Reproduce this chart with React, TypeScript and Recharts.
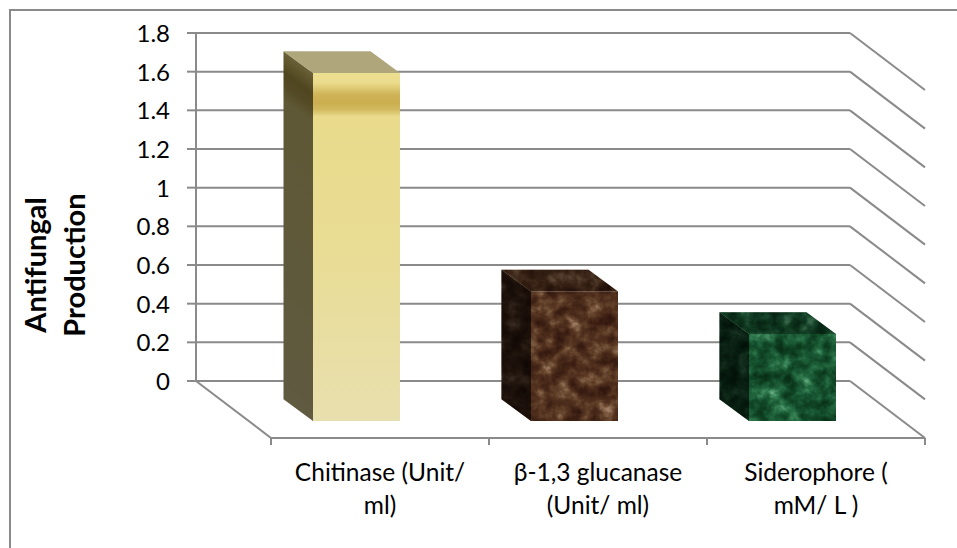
import React from "react";
import { BarChart, Bar, XAxis, YAxis, CartesianGrid } from "recharts";

const categories = ["Chitinase (Unit/ ml)", "β-1,3 glucanase (Unit/ ml)", "Siderophore ( mM/ L )"];
const categoryLines = [
  ["Chitinase (Unit/", "ml)"],
  ["β-1,3 glucanase", "(Unit/ ml)"],
  ["Siderophore (", "mM/ L )"],
];
const production = [1.8, 0.67, 0.45];
const valueTicks = [0, 0.2, 0.4, 0.6, 0.8, 1, 1.2, 1.4, 1.6, 1.8];
const titleLines = ["Antifungal", "Production"];

const rows = categories.map((name, i) => ({ name, production: production[i], index: i }));

// Plot box: the back wall of the oblique 3D view.
const WALL_LEFT = 196;
const WALL_TOP = 33;
const WALL_WIDTH = 654;
const WALL_HEIGHT = 348;
const WIDTH = 957;
const HEIGHT = 548;

// Oblique offsets: how far the floor and the bar faces are pulled toward the viewer.
const FLOOR_DX = 75;
const FLOOR_DY = 57;
const BACK_DX = 21.5;
const BACK_DY = 18.3;
const FRONT_DX = 51;
const FRONT_DY = 40;

const LINE = "#8a8a8a";
const LINE_W = 2;
const FONT = "Lato, 'Noto Sans', sans-serif";

type BoxProps = { x?: number; y?: number; width?: number; height?: number; index?: number };

const pts = (list: number[][]) => list.map((p) => p.join(",")).join(" ");

function Block(props: BoxProps) {
  const { x = 0, y = 0, width = 0, height = 0, index = 0 } = props;
  const fl = x + FRONT_DX;
  const fr = fl + width;
  const ft = y + FRONT_DY;
  const fb = ft + height;
  const bl = x + BACK_DX;
  const br = bl + width;
  const bt = y + BACK_DY;
  const bb = bt + height;
  const front = pts([[fl, ft], [fr, ft], [fr, fb], [fl, fb]]);
  const side = pts([[bl, bt], [fl, ft], [fl, fb], [bl, bb]]);
  const top = pts([[bl, bt], [br, bt], [fr, ft], [fl, ft]]);

  if (index === 0) {
    // Side gradient runs across the receding direction so its dark band slants with the face.
    const dx = FRONT_DX - BACK_DX;
    const dy = FRONT_DY - BACK_DY;
    const len = Math.hypot(dx, dy);
    const k = (height * dx) / len / len;
    return (
      <g>
        <defs>
          <linearGradient
            id="gold-side"
            gradientUnits="userSpaceOnUse"
            x1={bl}
            y1={bt}
            x2={bl - dy * k}
            y2={bt + dx * k}
          >
            <stop offset="0" stopColor="#6a6138" />
            <stop offset="0.06" stopColor="#4f4620" />
            <stop offset="0.1" stopColor="#544b26" />
            <stop offset="0.14" stopColor="#5f5836" />
            <stop offset="1" stopColor="#5f5a40" />
          </linearGradient>
        </defs>
        <polygon points={side} fill="url(#gold-side)" />
        <polygon points={top} fill="#afa67c" />
        <polygon points={front} fill="url(#gold-front)" />
      </g>
    );
  }
  const filter = index === 1 ? "url(#marble-brown)" : "url(#marble-green)";
  return (
    <g>
      <polygon points={side} fill="#000" filter={filter} />
      <polygon points={side} fill="#000" fillOpacity={0.65} />
      <polygon points={top} fill="#000" filter={filter} />
      <polygon points={top} fill="#000" fillOpacity={0.35} />
      <polygon points={front} fill="#000" filter={filter} />
    </g>
  );
}

function ValueTick(props: { x?: number; y?: number; payload?: { value: number } }) {
  const { x = 0, y = 0, payload } = props;
  const isBase = payload?.value === 0;
  return (
    <g>
      <line x1={x - 9} y1={y} x2={x} y2={y} stroke={LINE} strokeWidth={LINE_W} />
      <line
        x1={x + WALL_WIDTH}
        y1={y}
        x2={x + WALL_WIDTH + FLOOR_DX}
        y2={y + FLOOR_DY}
        stroke={LINE}
        strokeWidth={LINE_W}
      />
      {isBase && (
        <polyline
          points={pts([[x, y], [x + FLOOR_DX, y + FLOOR_DY], [x + WALL_WIDTH + FLOOR_DX, y + FLOOR_DY]])}
          fill="none"
          stroke={LINE}
          strokeWidth={LINE_W}
        />
      )}
      <text x={x - 26} y={y + 9} textAnchor="end" fontFamily={FONT} fontSize={24} fill="#000">
        {payload?.value}
      </text>
    </g>
  );
}

function CategoryTick(props: { x?: number; y?: number; index?: number; payload?: { coordinate: number } }) {
  const { index = 0, payload } = props;
  const band = WALL_WIDTH / categories.length;
  const cx = (payload?.coordinate ?? 0) + FLOOR_DX;
  const floorY = WALL_TOP + WALL_HEIGHT + FLOOR_DY;
  const lines = categoryLines[index];
  return (
    <g>
      <line x1={cx - band / 2} y1={floorY} x2={cx - band / 2} y2={floorY + 7} stroke={LINE} strokeWidth={LINE_W} />
      {index === categories.length - 1 && (
        <line x1={cx + band / 2} y1={floorY} x2={cx + band / 2} y2={floorY + 7} stroke={LINE} strokeWidth={LINE_W} />
      )}
      {lines.map((t, i) => (
        <text key={t} x={cx} y={floorY + 43 + i * 33} textAnchor="middle" fontFamily={FONT} fontSize={24.5} fill="#000">
          {t}
        </text>
      ))}
    </g>
  );
}

export default function App() {
  return (
    <div style={{ position: "absolute", left: 0, top: 0, width: WIDTH, height: HEIGHT, overflow: "hidden", background: "#fff" }}>
      <div
        style={{
          position: "absolute",
          left: 9,
          top: 9,
          right: 0,
          bottom: 0,
          borderLeft: "2px solid #8a8a8a",
          borderTop: "2px solid #8a8a8a",
        }}
      />
      <div style={{ position: "absolute", left: 0, top: 0 }}>
        <BarChart
          width={WIDTH}
          height={HEIGHT}
          data={rows}
          barSize={87}
          margin={{ left: 0, top: WALL_TOP, right: WIDTH - WALL_LEFT - WALL_WIDTH, bottom: 0 }}
        >
          <defs>
            <linearGradient id="gold-front" x1="0" y1="0" x2="0" y2="1">
              <stop offset="0" stopColor="#ecdf90" />
              <stop offset="0.028" stopColor="#ebdc8c" />
              <stop offset="0.062" stopColor="#cfb357" />
              <stop offset="0.085" stopColor="#cbae50" />
              <stop offset="0.105" stopColor="#d2b95f" />
              <stop offset="0.125" stopColor="#e9db8b" />
              <stop offset="0.5" stopColor="#e9dc94" />
              <stop offset="1" stopColor="#e8dfae" />
            </linearGradient>
            <filter id="marble-brown" x="0" y="0" width="1" height="1" colorInterpolationFilters="sRGB">
              <feTurbulence type="fractalNoise" baseFrequency="0.065 0.07" numOctaves={5} seed={23} result="noise" />
              <feColorMatrix in="noise" type="matrix" values="1 0 0 0 0 1 0 0 0 0 1 0 0 0 0 0 0 0 0 1" result="grey" />
              <feComponentTransfer in="grey" result="stone">
                <feFuncR type="table" tableValues="0.16 0.18 0.22 0.27 0.32 0.39 0.5 0.64 0.78" />
                <feFuncG type="table" tableValues="0.07 0.08 0.11 0.15 0.19 0.26 0.37 0.52 0.68" />
                <feFuncB type="table" tableValues="0.04 0.05 0.07 0.09 0.12 0.17 0.27 0.42 0.58" />
              </feComponentTransfer>
              <feComposite in="stone" in2="SourceAlpha" operator="in" />
            </filter>
            <filter id="marble-green" x="0" y="0" width="1" height="1" colorInterpolationFilters="sRGB">
              <feTurbulence type="fractalNoise" baseFrequency="0.065 0.07" numOctaves={5} seed={8} result="noise" />
              <feColorMatrix in="noise" type="matrix" values="1 0 0 0 0 1 0 0 0 0 1 0 0 0 0 0 0 0 0 1" result="grey" />
              <feComponentTransfer in="grey" result="stone">
                <feFuncR type="table" tableValues="0.02 0.03 0.04 0.06 0.09 0.14 0.24 0.42 0.6" />
                <feFuncG type="table" tableValues="0.13 0.16 0.2 0.26 0.33 0.41 0.53 0.68 0.82" />
                <feFuncB type="table" tableValues="0.06 0.08 0.1 0.14 0.19 0.25 0.36 0.52 0.66" />
              </feComponentTransfer>
              <feComposite in="stone" in2="SourceAlpha" operator="in" />
            </filter>
          </defs>
          <CartesianGrid vertical={false} stroke={LINE} strokeWidth={LINE_W} syncWithTicks />
          <XAxis
            dataKey="name"
            height={HEIGHT - WALL_TOP - WALL_HEIGHT}
            axisLine={false}
            tickLine={false}
            interval={0}
            tick={<CategoryTick />}
          />
          <YAxis
            width={WALL_LEFT}
            domain={[0, 1.8]}
            ticks={valueTicks}
            tickSize={0}
            tickMargin={0}
            tickLine={false}
            axisLine={{ stroke: LINE, strokeWidth: LINE_W }}
            interval={0}
            tick={<ValueTick />}
          />
          <Bar dataKey="production" isAnimationActive={false} shape={<Block />} />
          {titleLines.map((t, i) => (
            <text
              key={t}
              transform={`translate(${46 + i * 39} 265) rotate(-90)`}
              textAnchor="middle"
              fontFamily={FONT}
              fontWeight={700}
              fontSize={29}
              fill="#000"
            >
              {t}
            </text>
          ))}
        </BarChart>
      </div>
    </div>
  );
}
